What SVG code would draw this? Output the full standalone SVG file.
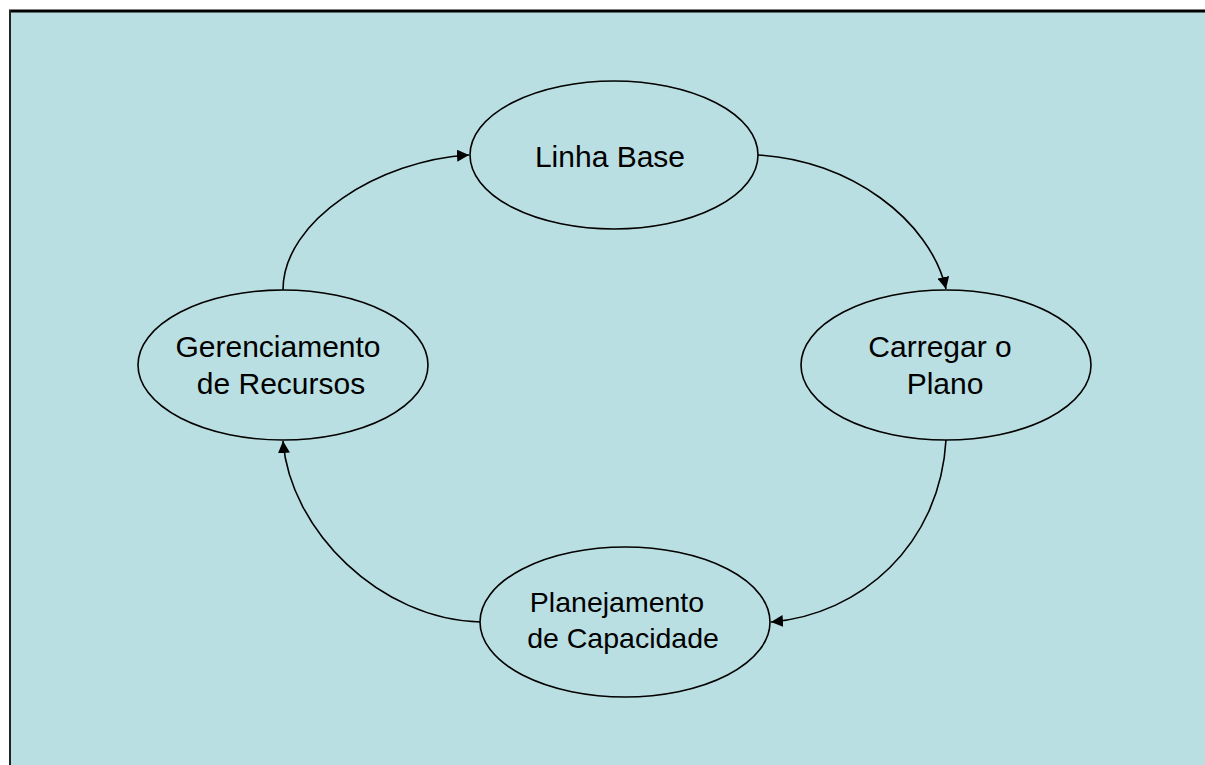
<svg xmlns="http://www.w3.org/2000/svg" width="1205" height="765" viewBox="0 0 1205 765">
  <style>
    .node ellipse { fill: #BADFE2; stroke: #000; stroke-width: 1.6; }
    .node text { font-family: "Liberation Sans", Arial, sans-serif; font-size: 30px; fill: #000; text-anchor: middle; }
    .conn path { fill: none; stroke: #000; stroke-width: 1.6; marker-end: url(#arrow); }
  </style>
  <defs>
    <marker id="arrow" viewBox="0 0 10 10" refX="10" refY="5" markerWidth="12" markerHeight="12" markerUnits="userSpaceOnUse" orient="auto">
      <path d="M0,0 L10,5 L0,10 Z" fill="#000"/>
    </marker>
  </defs>
  <rect x="10" y="11" width="1196" height="756" fill="#BADFE2"/>
  <line x1="9" y1="11" x2="1205" y2="11" stroke="#000" stroke-width="3"/>
  <line x1="10" y1="10" x2="10" y2="765" stroke="#222" stroke-width="2"/>

  <g class="conn" id="connectors">
    <path d="M283,290 C283,220 380,160 469,155"/>
    <path d="M758,155 C850,160 930,220 946,289"/>
    <path d="M946,440 C940,545 860,615 771,622"/>
    <path d="M481,622 C380,620 290,530 283,441"/>
  </g>

  <g class="node" id="linha-base">
    <ellipse cx="614" cy="155" rx="144" ry="74"/>
    <text x="610" y="167">Linha Base</text>
  </g>
  <g class="node" id="carregar-plano">
    <ellipse cx="946" cy="365" rx="145" ry="75"/>
    <text x="940" y="357">Carregar o</text>
    <text x="945" y="394">Plano</text>
  </g>
  <g class="node" id="gerenciamento-recursos">
    <ellipse cx="283" cy="365" rx="145" ry="75"/>
    <text x="278" y="357">Gerenciamento</text>
    <text x="281" y="394">de Recursos</text>
  </g>
  <g class="node" id="planejamento-capacidade">
    <ellipse cx="625" cy="622" rx="145" ry="75"/>
    <text x="617" y="612" style="font-size:28.5px">Planejamento</text>
    <text x="623" y="648" style="font-size:28.5px">de Capacidade</text>
  </g>
</svg>
